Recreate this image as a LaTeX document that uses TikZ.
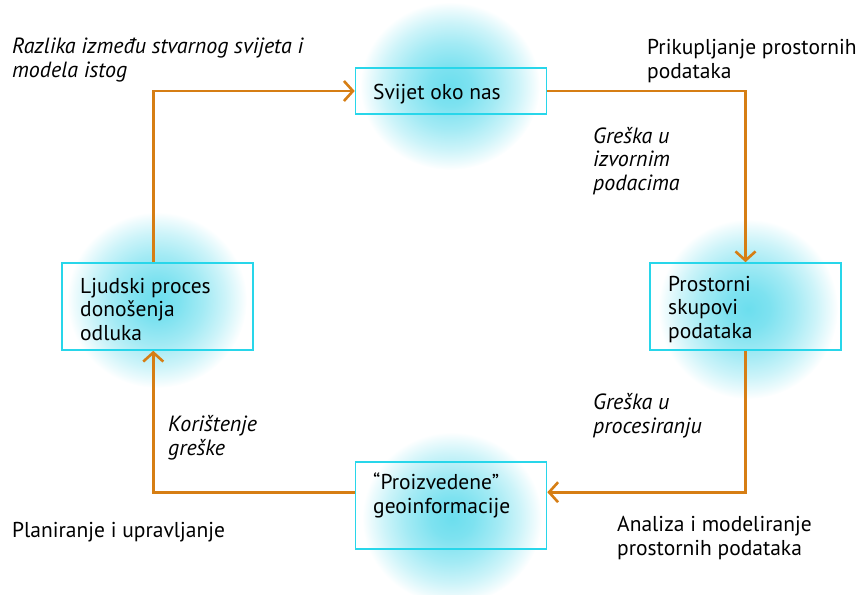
\documentclass[tikz,border=0pt]{standalone}
\usepackage{fontspec}
\setmainfont{PT Sans}
\usetikzlibrary{arrows.meta,calc}
\definecolor{glowc}{RGB}{108,222,238}
\definecolor{boxc}{RGB}{40,214,234}
\definecolor{linec}{RGB}{214,126,20}
\pgfdeclareradialshading{glow}{\pgfpoint{0bp}{0bp}}{color(0bp)=(glowc); color(6bp)=(glowc!88!white); color(13bp)=(glowc!62!white); color(19bp)=(glowc!34!white); color(23bp)=(glowc!12!white); color(25bp)=(white); color(50bp)=(white)}
\begin{document}
\begin{tikzpicture}[x=1pt,y=-1pt,
  box/.style={draw=boxc,line width=1.6pt,inner sep=0pt},
  conn/.style={draw=linec,line width=2.6pt,-{Straight Barb[length=9pt,width=20pt]}},
  lbl/.style={anchor=base west,inner sep=0pt,align=left,font=\fontsize{21.5}{23.5}\selectfont},
  ilbl/.style={lbl,font=\fontsize{22}{23.5}\selectfont\itshape}]
\useasboundingbox (0,0) rectangle (866,594);
% glows
\shade[shading=glow] (450,86) ellipse [x radius=90pt, y radius=84pt];
\shade[shading=glow] (748,309) ellipse [x radius=90pt, y radius=90pt];
\shade[shading=glow] (452,518) ellipse [x radius=90pt, y radius=86pt];
\shade[shading=glow] (157,300) ellipse [x radius=90pt, y radius=88pt];
% boxes
\node[box,minimum width=191pt,minimum height=46pt] (b1) at (451,91) {};
\node[box,minimum width=191pt,minimum height=87pt] (b2) at (745.5,306.5) {};
\node[box,minimum width=191pt,minimum height=87pt] (b3) at (451,505.5) {};
\node[box,minimum width=191pt,minimum height=87pt] (b4) at (157.5,306.5) {};
% box texts (anchored at the baseline of the last line)
\node[lbl] (t1) at (373,99) {Svijet oko nas};
\node[lbl] (t2) at (668,338) {Prostorni\\skupovi\\podataka};
\node[lbl] (t3) at (373,513) {“Proizvedene”\\geoinformacije};
\node[lbl] (t4) at (80,340) {Ljudski proces\\donošenja\\odluka};
% connector anchors
\coordinate (b3e) at ($(b3.north east)!0.35!(b3.south east)$);
\coordinate (b3w) at ($(b3.north west)!0.35!(b3.south west)$);
\coordinate (b4s) at ($(b4.south west)!0.478!(b4.south east)$);
\coordinate (b4n) at ($(b4.north west)!0.478!(b4.north east)$);
\draw[conn] (b1.east) -| (b2.north);
\draw[conn] (b2.south) |- (b3e);
\draw[conn] (b3w) -| (b4s);
\draw[conn] (b4n) |- (b1.west);
% labels
\node[ilbl] (l1) at (12,77) {Razlika između stvarnog svijeta i\\modela istog};
\node[lbl] (l2) at (647,78) {Prikupljanje prostornih\\podataka};
\node[ilbl] (l3) at (593,190) {Greška u\\izvornim\\podacima};
\node[ilbl] (l4) at (593,433) {Greška u\\procesiranju};
\node[ilbl] (l5) at (168,455) {Korištenje\\greške};
\node[lbl] (l6) at (12,537) {Planiranje i upravljanje};
\node[lbl] (l7) at (617,555) {Analiza i modeliranje\\prostornih podataka};
\end{tikzpicture}
\end{document}
